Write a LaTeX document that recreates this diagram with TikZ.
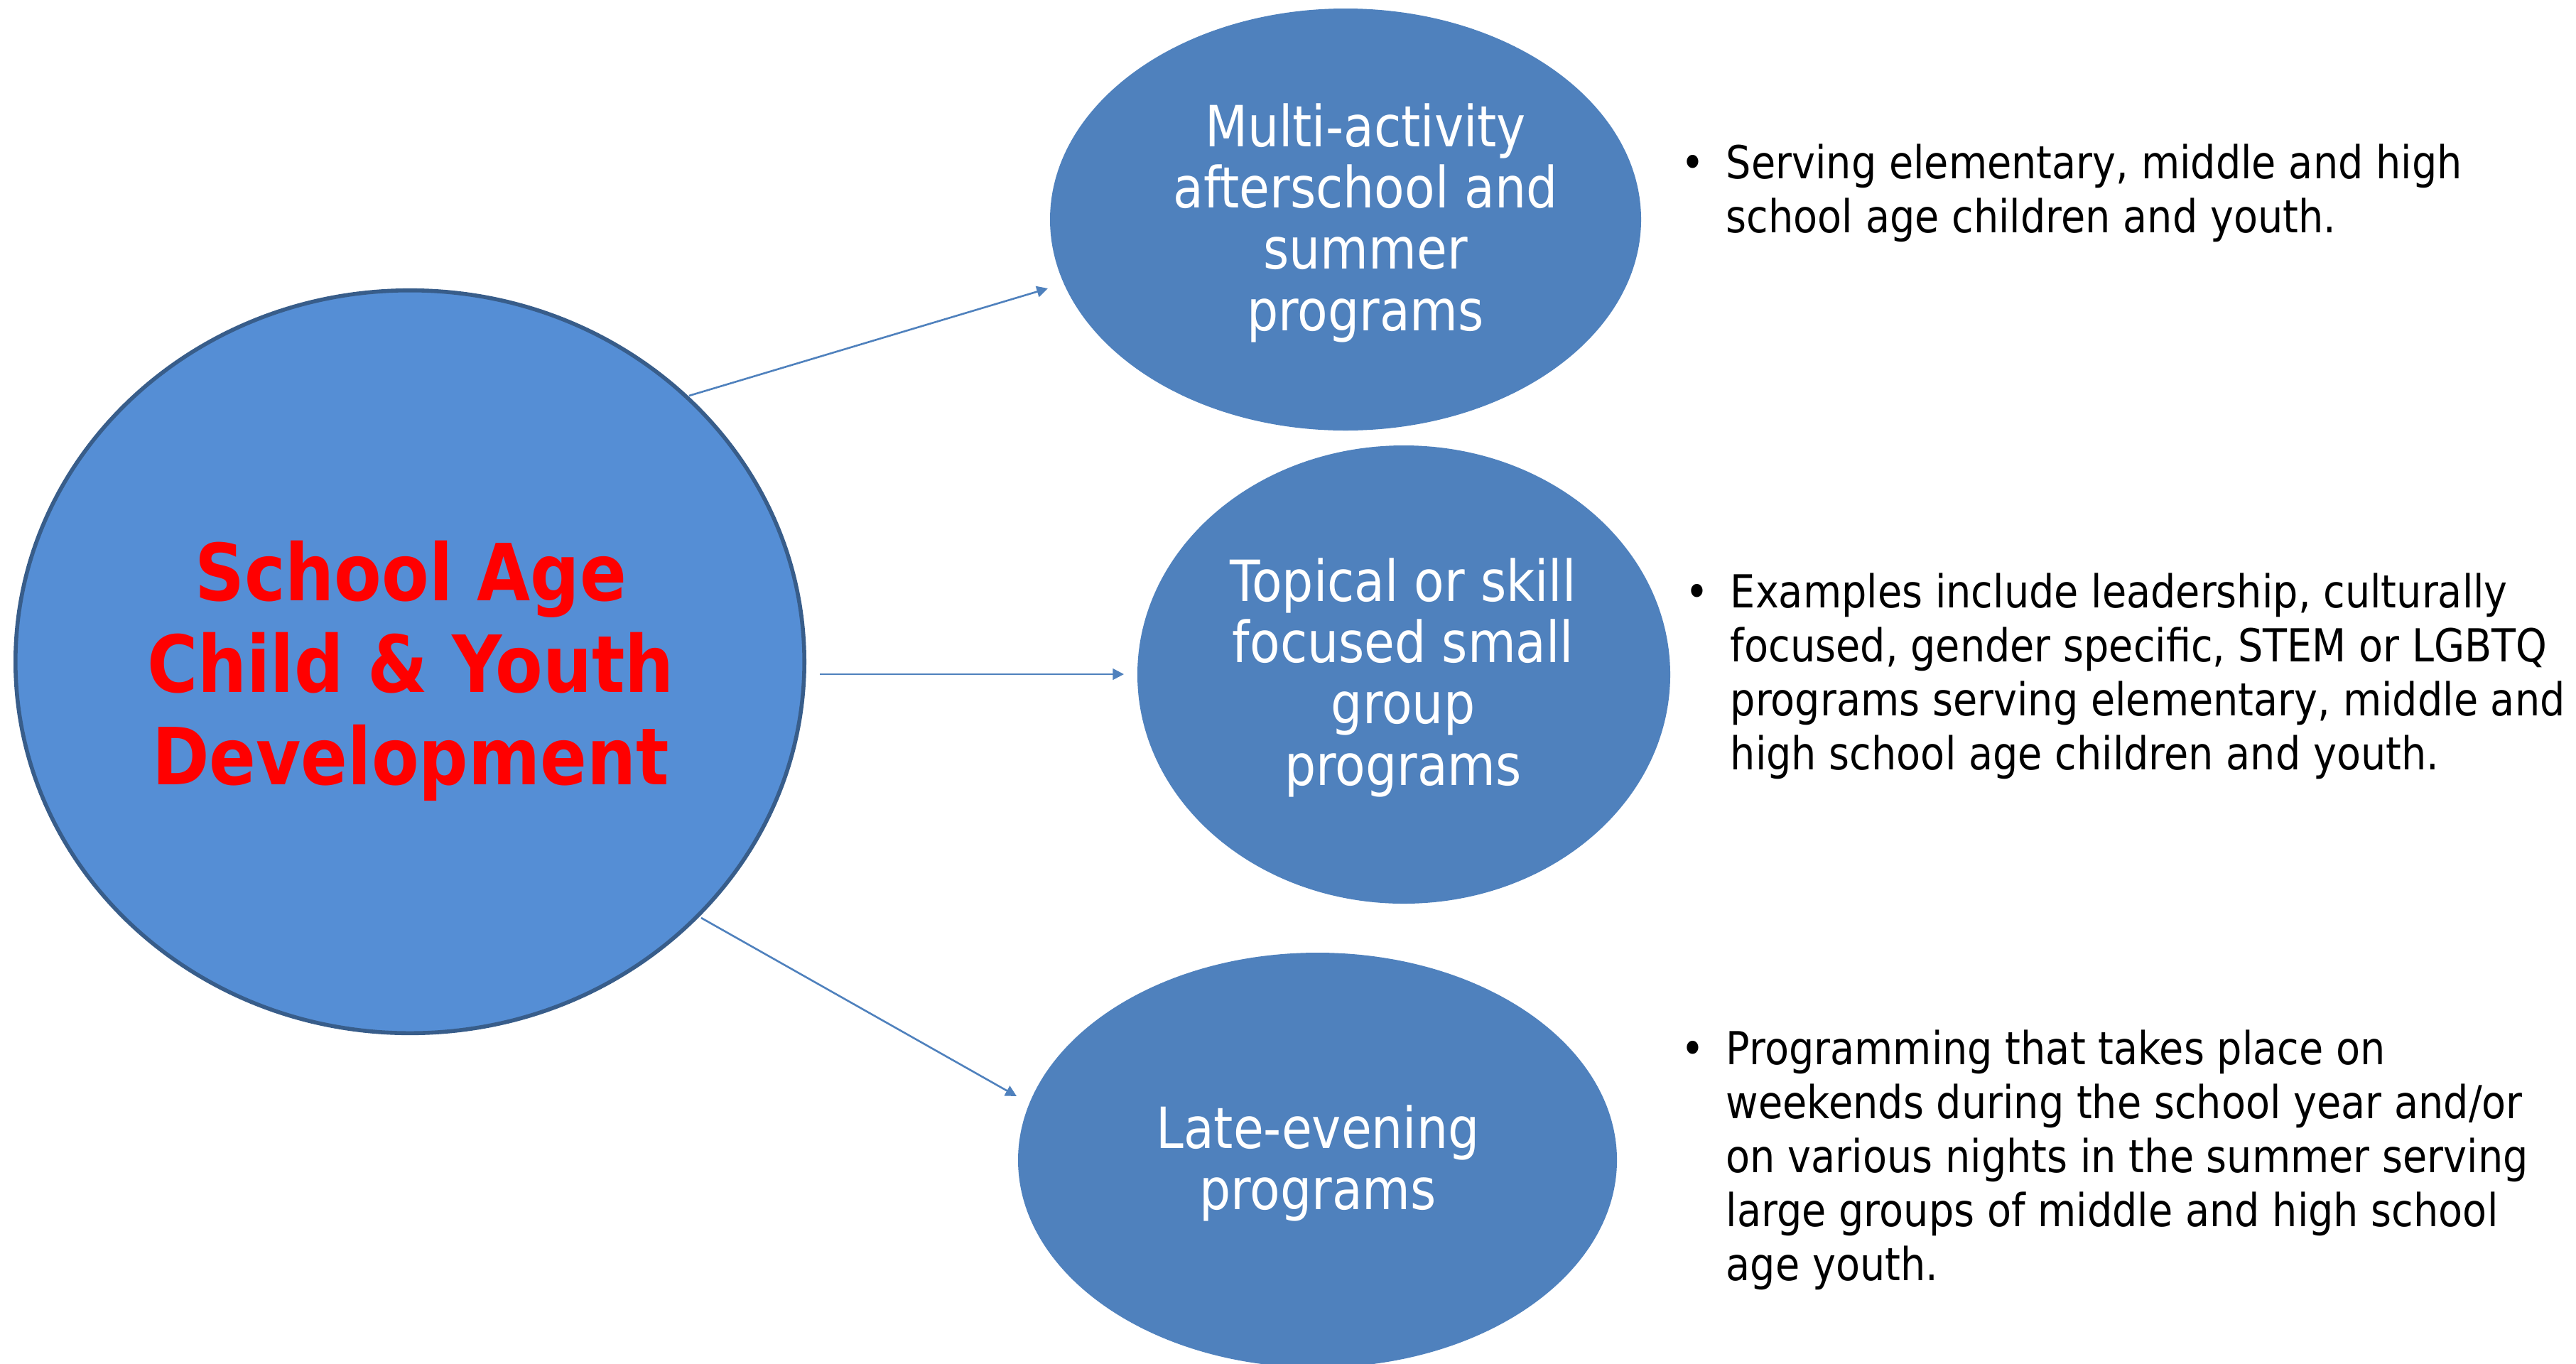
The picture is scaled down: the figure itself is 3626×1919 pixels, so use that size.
\documentclass[tikz,border=0pt]{standalone}
\usepackage{fontspec}
\newfontfamily\tah{DejaVu Sans}[FakeStretch=0.87]
\newfontfamily\tahb{DejaVu Sans}[FakeStretch=0.875]
\usetikzlibrary{shapes.geometric,arrows.meta}
\definecolor{mainfill}{RGB}{85,142,213}
\definecolor{mainedge}{RGB}{56,93,138}
\definecolor{ellfill}{RGB}{79,129,189}
\definecolor{arrowcol}{RGB}{79,129,189}
\definecolor{titlered}{RGB}{255,0,0}
\begin{document}
\begin{tikzpicture}[x=0.25pt,y=-0.25pt,
  bigcircle/.style={ellipse, fill=mainfill, draw=mainedge, line width=1.4pt, inner sep=0pt},
  progell/.style={ellipse, fill=ellfill, inner sep=0pt},
  conn/.style={draw=arrowcol, line width=0.65pt, -{Triangle[length=3.9pt,width=3.9pt]}},
  titletext/.style={anchor=base, inner sep=0pt, text=titlered, font=\tahb\bfseries\fontsize{27.75}{32.4}\selectfont},
  elltext/.style={anchor=base, inner sep=0pt, text=white, font=\tah\fontsize{20}{21.6}\selectfont},
  bullettext/.style={anchor=base west, inner sep=0pt, text=black, font=\tah\fontsize{16}{19}\selectfont}
]
\useasboundingbox[fill=white] (0,0) rectangle (3626,1919);

% shapes
\node[bigcircle, minimum width=277.6pt, minimum height=261.4pt] (main) at (577,931.5) {};
\node[progell, minimum width=208pt, minimum height=148.5pt] (e1) at (1894,309) {};
\node[progell, minimum width=187.5pt, minimum height=161.25pt] (e2) at (1976,949.5) {};
\node[progell, minimum width=210.75pt, minimum height=146pt] (e3) at (1854.5,1633) {};

% texts
\node[titletext] (title) at (578,845) {\parbox[t]{260pt}{\centering School Age\\Child \& Youth\\Development}};
\node[elltext] (t1) at (1922,206) {\parbox[t]{180pt}{\centering Multi-activity\\afterschool and\\summer\\programs}};
\node[elltext] (t2) at (1975,846) {\parbox[t]{180pt}{\centering Topical or skill\\focused small\\group\\programs}};
\node[elltext] (t3) at (1855,1616) {\parbox[t]{180pt}{\centering Late-evening\\programs}};

\node[bullettext] (b1) at (2335,251) {\parbox[t]{340pt}{\hangindent=23.5pt\hangafter=1\noindent\makebox[23.5pt][c]{•}Serving elementary, middle and high\\school age children and youth.}};
\node[bullettext] (b2) at (2341,855) {\parbox[t]{340pt}{\hangindent=23.5pt\hangafter=1\noindent\makebox[23.5pt][c]{•}Examples include leadership, culturally\\focused, gender specific, STEM or LGBTQ\\programs serving elementary, middle and\\high school age children and youth.}};
\node[bullettext] (b3) at (2335,1498) {\parbox[t]{340pt}{\hangindent=23.5pt\hangafter=1\noindent\makebox[23.5pt][c]{•}Programming that takes place on\\weekends during the school year and/or\\on various nights in the summer serving\\large groups of middle and high school\\age youth.}};

% connectors
\coordinate (a1s) at (970,557);
\coordinate (a1e) at (1475,406);
\coordinate (a2s) at (1154,949);
\coordinate (a2e) at (1582,949);
\coordinate (a3s) at (987,1292);
\coordinate (a3e) at (1431,1543);
\draw[conn] (a1s) -- (a1e);
\draw[conn] (a2s) -- (a2e);
\draw[conn] (a3s) -- (a3e);
\end{tikzpicture}
\end{document}
